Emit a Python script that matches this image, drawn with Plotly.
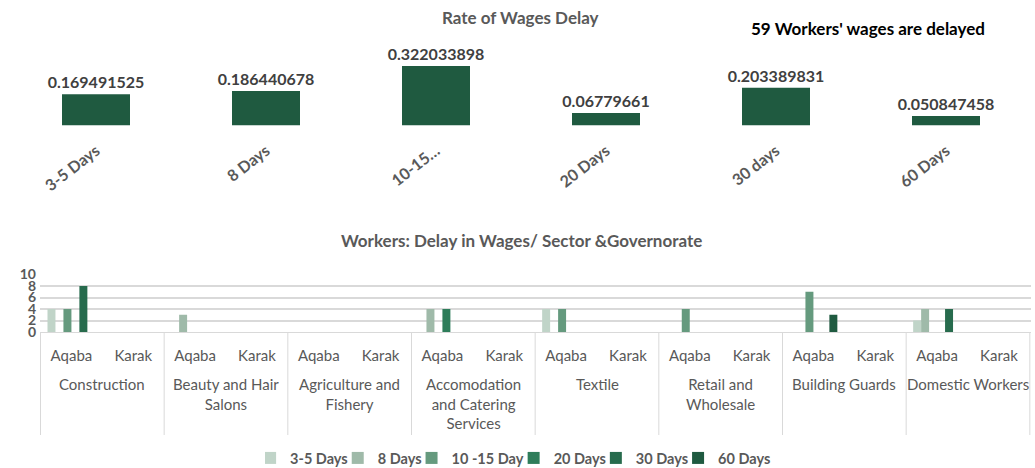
import plotly.graph_objects as go

# ---- data ----
delay_labels = ["3-5 Days", "8 Days", "10-15…", "20 Days", "30 days", "60 Days"]
delay_rates = [0.169491525, 0.186440678, 0.322033898, 0.06779661, 0.203389831, 0.050847458]

sectors = ["Construction", "Beauty and Hair<br>Salons", "Agriculture and<br>Fishery",
           "Accomodation<br>and Catering<br>Services", "Textile", "Retail and<br>Wholesale",
           "Building Guards", "Domestic Workers"]
governorates = ["Aqaba", "Karak"]

series_names = ["3-5 Days", "8 Days", "10 -15 Day", "20 Days", "30 Days", "60 Days"]
# values in order: sector by sector, [Aqaba, Karak]
s_3_5 = [4, 0, 0, 0, 0, 0, 0, 0, 4, 0, 0, 0, 0, 0, 2, 0]
s_8 = [0, 0, 3, 0, 0, 0, 4, 0, 0, 0, 0, 0, 0, 0, 4, 0]
s_10_15 = [4, 0, 0, 0, 0, 0, 0, 0, 4, 0, 4, 0, 7, 0, 0, 0]
s_20 = [0, 0, 0, 0, 0, 0, 4, 0, 0, 0, 0, 0, 0, 0, 0, 0]
s_30 = [8, 0, 0, 0, 0, 0, 0, 0, 0, 0, 0, 0, 0, 0, 4, 0]
s_60 = [0, 0, 0, 0, 0, 0, 0, 0, 0, 0, 0, 0, 3, 0, 0, 0]
series_values = [s_3_5, s_8, s_10_15, s_20, s_30, s_60]
series_colors = ["#c0d4c8", "#9fbaa9", "#659a7e", "#2e7d5a", "#276b4d", "#1f5a40"]

top_title = "Rate of Wages Delay"
note = "59 Workers' wages are delayed"
bottom_title = "Workers: Delay in Wages/ Sector &Governorate"

W, H = 1035, 468
FONT = "Lato"
GRAY = "#595959"

def px_x(p):
    return p / W

def px_y(p):
    return (H - p) / H

fig = go.Figure()

# top chart
fig.add_trace(go.Bar(
    x=delay_labels, y=delay_rates, xaxis="x", yaxis="y",
    width=0.4, marker=dict(color="#1f5a40", line=dict(width=0)),
    text=[str(v) for v in delay_rates], textposition="outside",
    constraintext="none",
    textfont=dict(family=FONT, size=16, color="#404040", weight="bold"),
    cliponaxis=False, showlegend=False,
))

# bottom chart: one category per (sector, governorate)
cat_keys = [f"{s}|{g}" for s in sectors for g in governorates]
cat_text = [g for s in sectors for g in governorates]
for name, vals, col in zip(series_names, series_values, series_colors):
    fig.add_trace(go.Bar(
        x=cat_keys, y=vals, name=name, xaxis="x2", yaxis="y2",
        marker=dict(color=col, line=dict(width=0)),
    ))

ng = len(governorates)
annotations = [
    dict(text=top_title, x=px_x(520), y=px_y(18), xref="paper", yref="paper",
         xanchor="center", yanchor="middle", showarrow=False,
         font=dict(family=FONT, size=17, color=GRAY, weight="bold")),
    dict(text=note, x=px_x(868), y=px_y(28), xref="paper", yref="paper",
         xanchor="center", yanchor="middle", showarrow=False,
         font=dict(family=FONT, size=17, color="#000000", weight="bold")),
    dict(text=bottom_title, x=px_x(521), y=px_y(241), xref="paper", yref="paper",
         xanchor="center", yanchor="middle", showarrow=False,
         font=dict(family=FONT, size=17, color=GRAY, weight="bold")),
]
shapes = []
for i, s in enumerate(sectors):
    annotations.append(dict(
        text=s, x=i * ng + (ng - 1) / 2, xref="x2", y=px_y(373), yref="paper",
        xanchor="center", yanchor="top", align="center", showarrow=False,
        font=dict(family=FONT, size=15, color=GRAY)))
for i in range(len(sectors) + 1):
    shapes.append(dict(type="line", xref="x2", yref="paper",
                       x0=i * ng - 0.5, x1=i * ng - 0.5, y0=px_y(332), y1=px_y(435),
                       line=dict(color="#d9d9d9", width=1)))

fig.update_layout(
    width=W, height=H,
    margin=dict(l=0, r=0, t=0, b=0, autoexpand=False),
    paper_bgcolor="white", plot_bgcolor="white",
    font=dict(family=FONT, color=GRAY),
    barmode="group", bargap=0.226, bargroupgap=0,
    xaxis=dict(domain=[px_x(11), px_x(1031)], type="category", anchor="y",
               tickangle=-38, showline=False, showgrid=False, ticks="",
               automargin=False, ticklabelstandoff=12,
               tickfont=dict(family=FONT, size=16, color=GRAY, weight="bold")),
    yaxis=dict(domain=[px_y(125.5), px_y(51.5)], range=[0, 0.4], anchor="x",
               visible=False, showgrid=False, automargin=False),
    xaxis2=dict(domain=[px_x(40), px_x(1031)], type="category", anchor="y2",
                tickvals=cat_keys, ticktext=cat_text,
                showline=True, linecolor="#d9d9d9", linewidth=1,
                showgrid=False, ticks="", automargin=False, ticklabelstandoff=10,
                tickfont=dict(family=FONT, size=15, color=GRAY)),
    yaxis2=dict(domain=[px_y(332), px_y(274.5)], range=[0, 10],
                tickvals=[0, 2, 4, 6, 8, 10], showgrid=True,
                gridcolor="#d9d9d9", gridwidth=1.5, zeroline=False,
                showline=False, ticks="", anchor="x2", automargin=False,
                ticklabelstandoff=3,
                tickfont=dict(family=FONT, size=14, color=GRAY, weight="bold")),
    legend=dict(orientation="h", x=0.503, xanchor="center",
                yref="container", y=(H - 458) / H, yanchor="middle",
                font=dict(family=FONT, size=14.5, color=GRAY, weight="bold"),
                itemwidth=30, indentation=-15, traceorder="normal"),
    annotations=annotations,
    shapes=shapes,
)

fig.write_html("out.html", config={"displayModeBar": False},
               post_script="document.body.style.margin='0';")
